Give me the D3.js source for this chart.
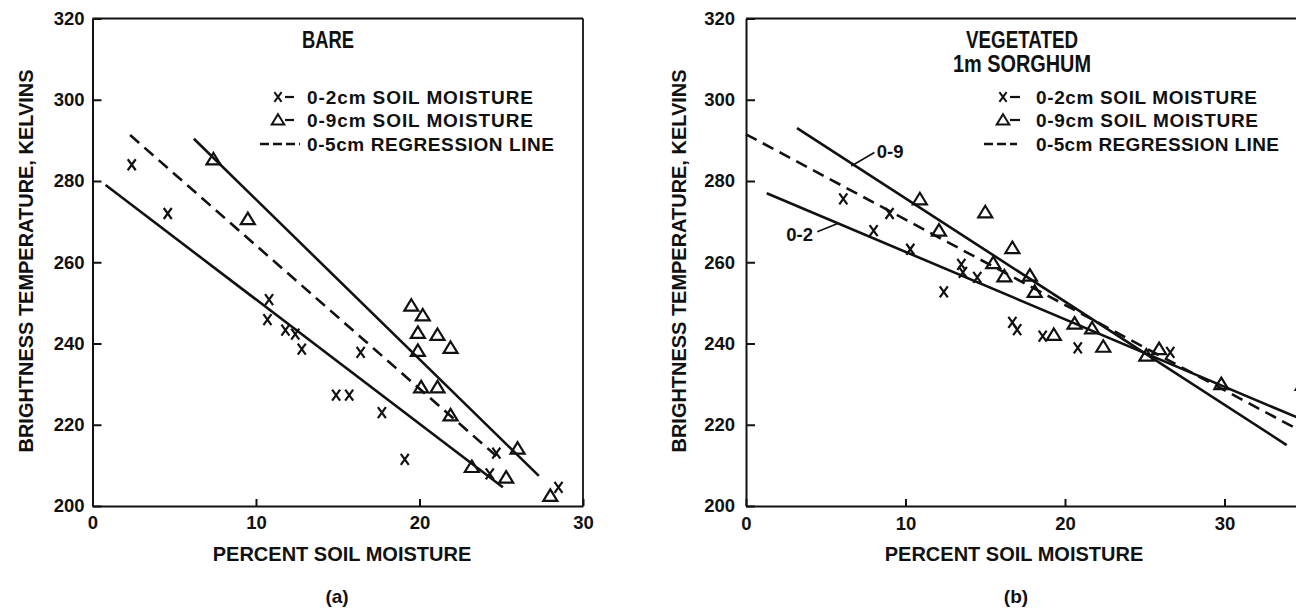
<!DOCTYPE html>
<html>
<head>
<meta charset="utf-8">
<script src="https://cdn.jsdelivr.net/npm/d3@7"></script>
<style>
  body { margin: 0; background: #fff; }
  svg { display: block; font-family: "Liberation Sans", Arial, sans-serif; font-weight: bold; }
  .axis path, .axis line { stroke: #111; stroke-width: 2; }
  .axis text { font-size: 18.5px; font-weight: bold; fill: #111; font-family: "Liberation Sans", Arial, sans-serif; }
  .frame { stroke: #111; stroke-width: 1.8; fill: none; }
  .reg { stroke: #111; stroke-width: 2.6; fill: none; }
  .mark { stroke: #111; stroke-width: 2.2; fill: none; }
  .label { fill: #111; }
</style>
</head>
<body>
<svg id="chart" width="1296" height="610"></svg>
<script>
// tick labels
var yTicks = [200, 220, 240, 260, 280, 300, 320];
var xTicks = [0, 10, 20, 30];

var legendLabels = ["0-2cm SOIL MOISTURE", "0-9cm SOIL MOISTURE", "0-5cm REGRESSION LINE"];

// (a) bare soil: [percent moisture, brightness temperature K]
var bareMoist02 = [[2.4, 284.0], [4.6, 272.0], [10.8, 250.8], [10.7, 245.9], [11.8, 243.3],
    [12.4, 242.3], [12.8, 238.6], [16.4, 237.8], [14.9, 227.3], [15.7, 227.3], [17.7, 223.0],
    [19.1, 211.5], [24.7, 213.0], [24.3, 207.9], [28.5, 204.6]];
var bareMoist09 = [[7.4, 285.3], [9.5, 270.6], [19.5, 249.3], [20.2, 246.9], [19.9, 242.6],
    [21.1, 242.1], [21.9, 238.9], [19.9, 238.2], [20.1, 229.2], [21.1, 229.2], [21.9, 222.3],
    [23.2, 209.6], [25.3, 207.0], [26.0, 214.1], [28.0, 202.5]];
var bareLine02 = [[0.8, 279.0], [25.1, 204.6]];
var bareLine09 = [[6.2, 290.4], [27.3, 207.4]];
var bareLine05 = [[2.3, 291.3], [24.9, 211.6]];

// (b) vegetated, 1m sorghum
var vegMoist02 = [[6.1, 275.6], [9.0, 272.0], [8.0, 267.8], [10.3, 263.2], [13.5, 259.5],
    [13.6, 257.5], [14.5, 256.3], [12.4, 252.7], [16.7, 245.2], [17.0, 243.4], [18.6, 241.8],
    [20.8, 238.9], [26.6, 237.8]];
var vegMoist09 = [[10.9, 275.5], [12.1, 267.8], [15.0, 272.3], [16.7, 263.5], [15.5, 259.8],
    [16.2, 256.5], [17.8, 256.7], [18.1, 252.7], [20.6, 244.9], [21.7, 243.7], [19.3, 242.1],
    [22.4, 239.2], [25.1, 237.0], [25.9, 238.6], [29.8, 230.0], [34.9, 229.8]];
var vegLine02 = [[1.3, 277.0], [36.0, 219.4]];
var vegLine09 = [[3.2, 293.0], [33.9, 215.0]];
var vegLine05 = [[0.0, 291.5], [36.0, 215.9]];

// curve labels on panel (b): text, anchor point, leader line
var vegCurveLabels = [
    {text: "0-9", at: [8.2, 287.2], anchor: "start", leader: [[8.05, 287.0], [6.6, 283.7]]},
    {text: "0-2", at: [4.2, 266.9], anchor: "end", leader: [[4.47, 267.5], [5.79, 269.6]]}
];

var svg = d3.select("#chart");

var crossPath = "M-4,-5.5L4,5.5M4,-5.5L-4,5.5";
var triPath = "M0,-6.5L7,5L-7,5Z";

function drawPanel(p) {
    var x = d3.scaleLinear().domain(p.xDomain).range([p.left, p.right]);
    var y = d3.scaleLinear().domain([200, 320]).range([506, 18.5]);
    var g = svg.append("g");

    // frame
    g.append("line").attr("class", "frame")
        .attr("x1", x(0)).attr("x2", x(p.xDomain[1])).attr("y1", y(320)).attr("y2", y(320));
    g.append("line").attr("class", "frame")
        .attr("x1", x(p.xDomain[1])).attr("x2", x(p.xDomain[1])).attr("y1", y(320)).attr("y2", y(200));

    g.append("g").attr("class", "axis")
        .attr("transform", "translate(" + x(0) + ",0)")
        .call(d3.axisLeft(y).tickValues(yTicks).tickSizeInner(-9).tickSizeOuter(0).tickPadding(p.yPad));

    g.append("g").attr("class", "axis")
        .attr("transform", "translate(0," + y(200) + ")")
        .call(d3.axisBottom(x).tickValues(xTicks).tickSizeInner(-7).tickSizeOuter(0).tickPadding(p.xPad));

    var line = d3.line().x(d => x(d[0])).y(d => y(d[1]));
    g.append("path").datum(p.line02).attr("class", "reg").attr("d", line);
    g.append("path").datum(p.line09).attr("class", "reg").attr("d", line);
    g.append("path").datum(p.line05).attr("class", "reg").attr("d", line)
        .attr("stroke-dasharray", "12,7");

    g.selectAll(".m02").data(p.moist02).join("path")
        .attr("class", "mark").attr("d", crossPath)
        .attr("transform", d => "translate(" + x(d[0]) + "," + y(d[1]) + ")");
    g.selectAll(".m09").data(p.moist09).join("path")
        .attr("class", "mark").attr("d", triPath)
        .attr("transform", d => "translate(" + x(d[0]) + "," + y(d[1]) + ")");

    // titles
    p.title.forEach(function(t, i) {
        g.append("text").attr("class", "label")
            .attr("x", p.titleX).attr("y", p.titleY[i]).attr("dy", "0.35em")
            .attr("text-anchor", "middle")
            .style("font-family", '"Liberation Sans Narrow", "Arial Narrow", sans-serif')
            .style("font-size", "23px")
            .attr("textLength", p.titleWidth[i]).attr("lengthAdjust", "spacingAndGlyphs")
            .text(t);
    });

    // legend
    legendLabels.forEach(function(t, i) {
        var ly = p.legendY[i];
        if (i < 2) {
            g.append("path").attr("class", "mark").attr("d", i == 0 ? crossPath : triPath)
                .attr("transform", "translate(" + p.legendSym + "," + ly + ") scale(0.9)");
            g.append("line").attr("class", "mark")
                .attr("x1", p.legendDash[0]).attr("x2", p.legendDash[1])
                .attr("y1", ly).attr("y2", ly);
        } else {
            g.append("line").attr("class", "reg").attr("stroke-dasharray", "9,4")
                .attr("x1", p.legendLine[0]).attr("x2", p.legendLine[1])
                .attr("y1", ly).attr("y2", ly);
        }
        g.append("text").attr("class", "label")
            .attr("x", p.legendText).attr("y", ly).attr("dy", "0.35em")
            .style("font-size", "19px")
            .attr("textLength", p.legendWidth[i])
            .text(t);
    });

    // axis titles
    g.append("text").attr("class", "label")
        .attr("transform", "translate(" + (x(0) - 67) + ",261) rotate(-90)")
        .attr("dy", "0.35em").attr("text-anchor", "middle")
        .style("font-size", "21px")
        .attr("textLength", 383).attr("lengthAdjust", "spacingAndGlyphs")
        .text("BRIGHTNESS TEMPERATURE, KELVINS");
    g.append("text").attr("class", "label")
        .attr("x", p.xLabelX).attr("y", 554).attr("dy", "0.35em").attr("text-anchor", "middle")
        .style("font-size", "20px")
        .text("PERCENT SOIL MOISTURE");
    g.append("text").attr("class", "label")
        .attr("x", p.capX).attr("y", 596).attr("dy", "0.35em").attr("text-anchor", "middle")
        .style("font-size", "19px")
        .text(p.caption);

    (p.curveLabels || []).forEach(function(c) {
        g.append("text").attr("class", "label")
            .attr("x", x(c.at[0])).attr("y", y(c.at[1])).attr("dy", "0.35em")
            .attr("text-anchor", c.anchor).style("font-size", "18.5px")
            .text(c.text);
        g.append("path").datum(c.leader).attr("d", line)
            .attr("stroke", "#111").attr("stroke-width", 1.6).attr("fill", "none");
    });
}

drawPanel({
    xDomain: [0, 30], left: 92.5, right: 583, yPad: 8, xPad: 10,
    moist02: bareMoist02, moist09: bareMoist09,
    line02: bareLine02, line09: bareLine09, line05: bareLine05,
    title: ["BARE"], titleX: 328, titleY: [40], titleWidth: [52],
    legendY: [97, 120, 144], legendSym: 278, legendDash: [285, 294], legendLine: [260, 300],
    legendText: 307, legendWidth: [226, 226, 247],
    xLabelX: 342, capX: 337, caption: "(a)"
});

drawPanel({
    xDomain: [0, 40], left: 746, right: 1384, yPad: 11, xPad: 11,
    moist02: vegMoist02, moist09: vegMoist09,
    line02: vegLine02, line09: vegLine09, line05: vegLine05,
    title: ["VEGETATED", "1m SORGHUM"], titleX: 1022, titleY: [40, 64], titleWidth: [112, 138],
    legendY: [97, 120, 144], legendSym: 1003, legendDash: [1010, 1020], legendLine: [984, 1017],
    legendText: 1036, legendWidth: [221, 222, 243],
    xLabelX: 1014, capX: 1016, caption: "(b)",
    curveLabels: vegCurveLabels
});
</script>
</body>
</html>
